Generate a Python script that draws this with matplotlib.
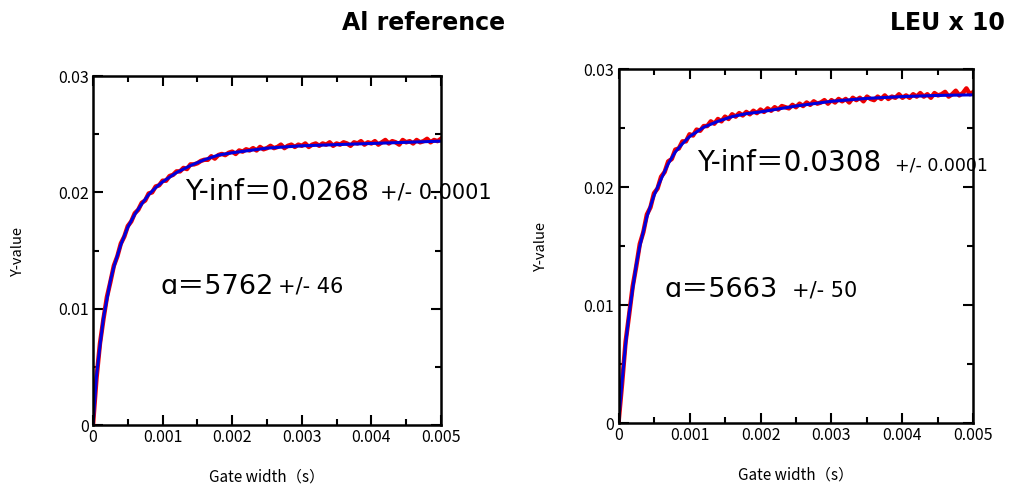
import numpy as np
import matplotlib
matplotlib.use("Agg")
import matplotlib.pyplot as plt
from matplotlib.ticker import MultipleLocator

left_red = [
    0.0, 0.0040, 0.0070, 0.0091, 0.0110, 0.0123, 0.0137, 0.0145, 0.0156, 0.0162,
    0.0171, 0.0175, 0.0182, 0.0185, 0.0191, 0.0193, 0.0199, 0.0200, 0.0205, 0.0206,
    0.0210, 0.0210, 0.0214, 0.0215, 0.0218, 0.0218, 0.0221, 0.0220, 0.0224, 0.0224,
    0.0225, 0.0227, 0.0228, 0.0228, 0.0231, 0.0229, 0.0232, 0.0233, 0.0232, 0.0234,
    0.0235, 0.0233, 0.0236, 0.0235, 0.0237, 0.0236, 0.0238, 0.0236, 0.0239, 0.0237,
    0.0238, 0.0240, 0.0238, 0.0239, 0.0241, 0.0238, 0.0240, 0.0241, 0.0239, 0.0241,
    0.0240, 0.0242, 0.0239, 0.0241, 0.0242, 0.0240, 0.0242, 0.0241, 0.0243, 0.0240,
    0.0242, 0.0241, 0.0243, 0.0242, 0.0240, 0.0243, 0.0242, 0.0244, 0.0241, 0.0243,
    0.0242, 0.0244, 0.0241, 0.0243, 0.0245, 0.0242, 0.0244, 0.0243, 0.0241, 0.0245,
    0.0243, 0.0244, 0.0242, 0.0245, 0.0243, 0.0244, 0.0246, 0.0243, 0.0245, 0.0244,
    0.0246,
]
right_red = [
    0.0, 0.0033, 0.0069, 0.0092, 0.0116, 0.0133, 0.0152, 0.0162, 0.0177, 0.0183,
    0.0195, 0.0199, 0.0209, 0.0213, 0.0222, 0.0224, 0.0232, 0.0233, 0.0239, 0.0239,
    0.0245, 0.0244, 0.0249, 0.0248, 0.0252, 0.0252, 0.0256, 0.0254, 0.0258, 0.0256,
    0.0260, 0.0258, 0.0262, 0.0260, 0.0263, 0.0261, 0.0264, 0.0262, 0.0265, 0.0263,
    0.0266, 0.0264, 0.0267, 0.0265, 0.0268, 0.0266, 0.0269, 0.0268, 0.0267, 0.0270,
    0.0268, 0.0271, 0.0269, 0.0272, 0.0270, 0.0273, 0.0271, 0.0272, 0.0274, 0.0271,
    0.0274, 0.0272, 0.0275, 0.0273, 0.0275, 0.0272, 0.0276, 0.0274, 0.0276, 0.0273,
    0.0277, 0.0275, 0.0274, 0.0277, 0.0275, 0.0278, 0.0275, 0.0277, 0.0276, 0.0279,
    0.0276, 0.0278, 0.0276, 0.0279, 0.0277, 0.0280, 0.0277, 0.0279, 0.0276, 0.0280,
    0.0278, 0.0279, 0.0281, 0.0277, 0.0279, 0.0282, 0.0278, 0.0280, 0.0284, 0.0279,
    0.0281,
]

fit_t = [0, 0.00005, 0.0001, 0.00015, 0.0002, 0.00025, 0.0003, 0.0004, 0.0005,
         0.0006, 0.0007, 0.0008, 0.0009, 0.001, 0.0012, 0.0014, 0.0016, 0.0018,
         0.002, 0.0025, 0.003, 0.0035, 0.004, 0.0045, 0.005]
left_fit = [0, 0.0042, 0.0068, 0.0092, 0.0108, 0.0124, 0.0136, 0.0155, 0.0170,
            0.0181, 0.0190, 0.0198, 0.0204, 0.0209, 0.0217, 0.0223, 0.0228, 0.0232,
            0.0234, 0.0238, 0.0240, 0.0241, 0.0242, 0.0243, 0.0244]
right_fit = [0, 0.0035, 0.0067, 0.0093, 0.0114, 0.0134, 0.0150, 0.0175, 0.0193,
             0.0207, 0.0220, 0.0230, 0.0237, 0.0243, 0.0251, 0.0256, 0.0260, 0.02625,
             0.0264, 0.0269, 0.0273, 0.02755, 0.0277, 0.0278, 0.02785]

xticks = [0, 0.001, 0.002, 0.003, 0.004, 0.005]
xticklabels = ["0", "0.001", "0.002", "0.003", "0.004", "0.005"]
yticks = [0, 0.01, 0.02, 0.03]
yticklabels = ["0", "0.01", "0.02", "0.03"]

titles = ["Al reference", "LEU x 10"]
yinf_txt = ["Y-inf＝0.0268", "Y-inf＝0.0308"]
yinf_err = ["+/- 0.0001", "+/- 0.0001"]
alpha_txt = ["ɑ＝5762", "ɑ＝5663"]
alpha_err = ["+/- 46", "+/- 50"]

W, H = 1018, 486
jp = ["Noto Sans CJK JP", "DejaVu Sans"]
big = ["DejaVu Sans", "Noto Sans CJK JP"]

fig = plt.figure(figsize=(W / 100, H / 100), dpi=100)

# Achsenpositionen in Pixeln: links, oben, rechts, unten
boxes = [(93, 76, 441, 425), (618.5, 69.5, 973.5, 423)]
reds = [left_red, right_red]
fits = [left_fit, right_fit]
# Textpositionen (Pixel)
title_pos = [(505, 30), (1005, 30)]
yinf_pos = [(185, 200), (697, 171)]
yinf_err_pos = [(380, 199), (895, 170)]
yinf_err_size = [15, 12.5]
alpha_pos = [(160, 294), (665, 297)]
alpha_err_pos = [(278, 293), (792, 296)]
ylab_x = [18, 541]

for i in range(2):
    l, t, r, b = boxes[i]
    ax = fig.add_axes([l / W, 1 - b / H, (r - l) / W, (b - t) / H])
    gate = np.linspace(0, 0.005, len(reds[i]))
    ax.plot(gate, reds[i], color="#ee0000", lw=3.2)
    ax.plot(fit_t, fits[i], color="#0000dd", lw=2.2)
    ax.set_xlim(0, 0.005)
    ax.set_ylim(0, 0.03)
    ax.set_xticks(xticks)
    ax.set_xticklabels(xticklabels, family=jp, fontsize=11.5)
    ax.set_yticks(yticks)
    ax.set_yticklabels(yticklabels, family=jp, fontsize=11.5)
    ax.xaxis.set_minor_locator(MultipleLocator(0.0005))
    ax.yaxis.set_minor_locator(MultipleLocator(0.005))
    ax.tick_params(which="both", direction="in", top=True, right=True, width=1.5)
    ax.tick_params(which="major", length=7, pad=3)
    ax.tick_params(which="minor", length=4)
    for s in ax.spines.values():
        s.set_linewidth(1.8)
    ax.set_xlabel("Gate width（s）", family=jp, fontsize=11, labelpad=16)

    fig.text(ylab_x[i] / W, 1 - (t + b) / 2 / H, "Y-value", rotation=90,
             ha="center", va="center", family=jp, fontsize=10.5)
    fig.text(title_pos[i][0] / W, 1 - title_pos[i][1] / H, titles[i],
             ha="right", va="baseline", fontsize=17, fontweight="bold",
             family="DejaVu Sans")
    fig.text(yinf_pos[i][0] / W, 1 - yinf_pos[i][1] / H, yinf_txt[i],
             ha="left", va="baseline", family=big, fontsize=20)
    fig.text(yinf_err_pos[i][0] / W, 1 - yinf_err_pos[i][1] / H, yinf_err[i],
             ha="left", va="baseline", family="DejaVu Sans",
             fontsize=yinf_err_size[i])
    fig.text(alpha_pos[i][0] / W, 1 - alpha_pos[i][1] / H, alpha_txt[i],
             ha="left", va="baseline", family=big, fontsize=19.5)
    fig.text(alpha_err_pos[i][0] / W, 1 - alpha_err_pos[i][1] / H, alpha_err[i],
             ha="left", va="baseline", family="DejaVu Sans", fontsize=15)

fig.savefig("out.png", dpi=100)
